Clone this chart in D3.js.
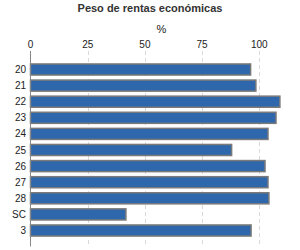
<!DOCTYPE html>
<html><head><meta charset="utf-8">
<script src="https://cdn.jsdelivr.net/npm/d3@7"></script>
<style>body{margin:0;background:#fff}svg{display:block;font-family:"Liberation Sans",Arial,sans-serif}</style>
</head><body>
<svg id="c" width="300" height="250"></svg>
<script>
const categories = ["20","21","22","23","24","25","26","27","28","SC","3"];
const values = [96.2, 98.5, 109.0, 107.3, 103.8, 87.9, 102.5, 103.8, 104.2, 41.7, 96.4];
const tickValues = [0, 25, 50, 75, 100];
const title = "Peso de rentas económicas";
const axisTitle = "%";

const svg = d3.select("#c");
const x = d3.scaleLinear().domain([0, 100]).range([30.5, 259.3]);
const y = d3.scaleBand().domain(categories).range([57.5, 242.5]).paddingInner(0.25).paddingOuter(0.37);
const plotTop = 51, plotBottom = 246.5;

// gridlines
svg.append("g").selectAll("line").data(tickValues.slice(1)).join("line")
  .attr("x1", d => Math.round(x(d)) + 0.5).attr("x2", d => Math.round(x(d)) + 0.5)
  .attr("y1", plotTop).attr("y2", plotBottom)
  .attr("stroke", "#d9d9d9").attr("stroke-dasharray", "4,3").attr("stroke-width", 1);

// tick labels
svg.append("g").selectAll("text").data(tickValues).join("text")
  .attr("x", d => x(d)).attr("y", 47.5).attr("text-anchor", "middle")
  .attr("font-size", 10).attr("fill", "#222").text(d => d);

// bars
svg.append("g").selectAll("rect").data(values).join("rect")
  .attr("x", x(0)).attr("y", (d, i) => y(categories[i]) + 0.5)
  .attr("width", d => x(d) - x(0)).attr("height", y.bandwidth() - 1)
  .attr("fill", "#2E67AB").attr("stroke", "#7a7a7a").attr("stroke-width", 1.5);

// left axis line
svg.append("line").attr("x1", 30.5).attr("x2", 30.5).attr("y1", plotTop).attr("y2", plotBottom)
  .attr("stroke", "#888").attr("stroke-width", 1);

// category labels
svg.append("g").selectAll("text").data(categories).join("text")
  .attr("x", 26).attr("y", d => y(d) + y.bandwidth() / 2 + 3.5).attr("text-anchor", "end")
  .attr("font-size", 10).attr("fill", "#222").text(d => d);

svg.append("text").attr("x", 150).attr("y", 12).attr("text-anchor", "middle")
  .attr("font-size", 11).attr("font-weight", "bold").attr("fill", "#333").text(title);
svg.append("text").attr("x", 161.5).attr("y", 33).attr("text-anchor", "middle")
  .attr("font-size", 11).attr("fill", "#222").text(axisTitle);
</script>
</body></html>
